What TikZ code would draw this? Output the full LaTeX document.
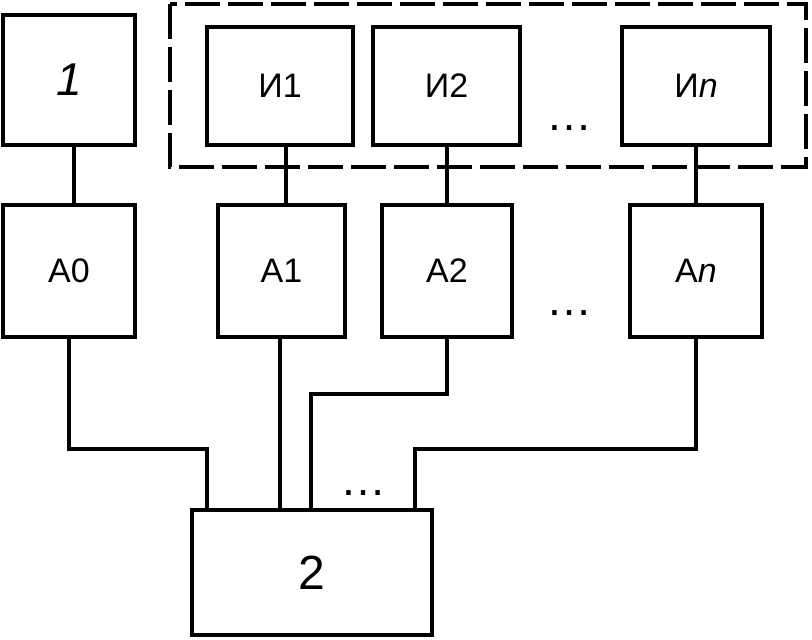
\documentclass[tikz,border=0pt]{standalone}
\usepackage{fontspec}
\setmainfont{Liberation Sans}
\begin{document}
\begin{tikzpicture}[x=1pt, y=1pt, line width=4pt,
  blk/.style={draw, inner sep=0pt, font=\fontsize{34}{38}\selectfont},
  dots/.style={anchor=base, inner sep=0pt, font=\fontsize{46}{50}\selectfont}]
\useasboundingbox (0,0) rectangle (812,-640);
% frame around the И blocks
\draw[dash pattern=on 35pt off 8pt] (170,-4) rectangle (806,-167);
% top row
\node[blk, minimum width=132, minimum height=130, font=\fontsize{46}{50}\selectfont\itshape] (b1) at (69,-80) {1};
\node[blk, minimum width=146, minimum height=118] (i1) at (280,-86) {И1};
\node[blk, minimum width=147, minimum height=118] (i2) at (446.5,-86) {И2};
\node[blk, minimum width=148, minimum height=118] (in) at (696,-86) {И\textit{n}};
\node[dots] (dt) at (569,-130) {…};
% A row
\node[blk, minimum width=132, minimum height=132] (a0) at (69,-271) {А0};
\node[blk, minimum width=127, minimum height=132] (a1) at (281.5,-271) {А1};
\node[blk, minimum width=130, minimum height=132] (a2) at (447,-271) {А2};
\node[blk, minimum width=132, minimum height=132] (an) at (696,-271) {А\textit{n}};
\node[dots] (da) at (569,-315) {…};
% block 2
\node[blk, minimum width=240, minimum height=125, font=\fontsize{48}{52}\selectfont] (b2) at (312,-572.5) {2};
\node[dots] (db) at (363,-495) {…};
% links
\draw ([xshift=5]b1.south) -- ([xshift=5]a0.north);
\draw ([xshift=6]i1.south) -- ([xshift=6]i1.south |- a1.north);
\draw (i2.south) -- (i2.south |- a2.north);
\draw (in.south) -- (in.south |- an.north);
\draw (a0.south) -- ++(0,-110) -| ([xshift=17]b2.north west);
\draw ([xshift=-1.5]a1.south) -- ([xshift=-1.5]a1.south |- b2.north);
\draw (a2.south) -- ++(0,-55) -| ([xshift=121]b2.north west);
\draw (an.south) -- ++(0,-110) -| ([xshift=225]b2.north west);
\end{tikzpicture}
\end{document}
